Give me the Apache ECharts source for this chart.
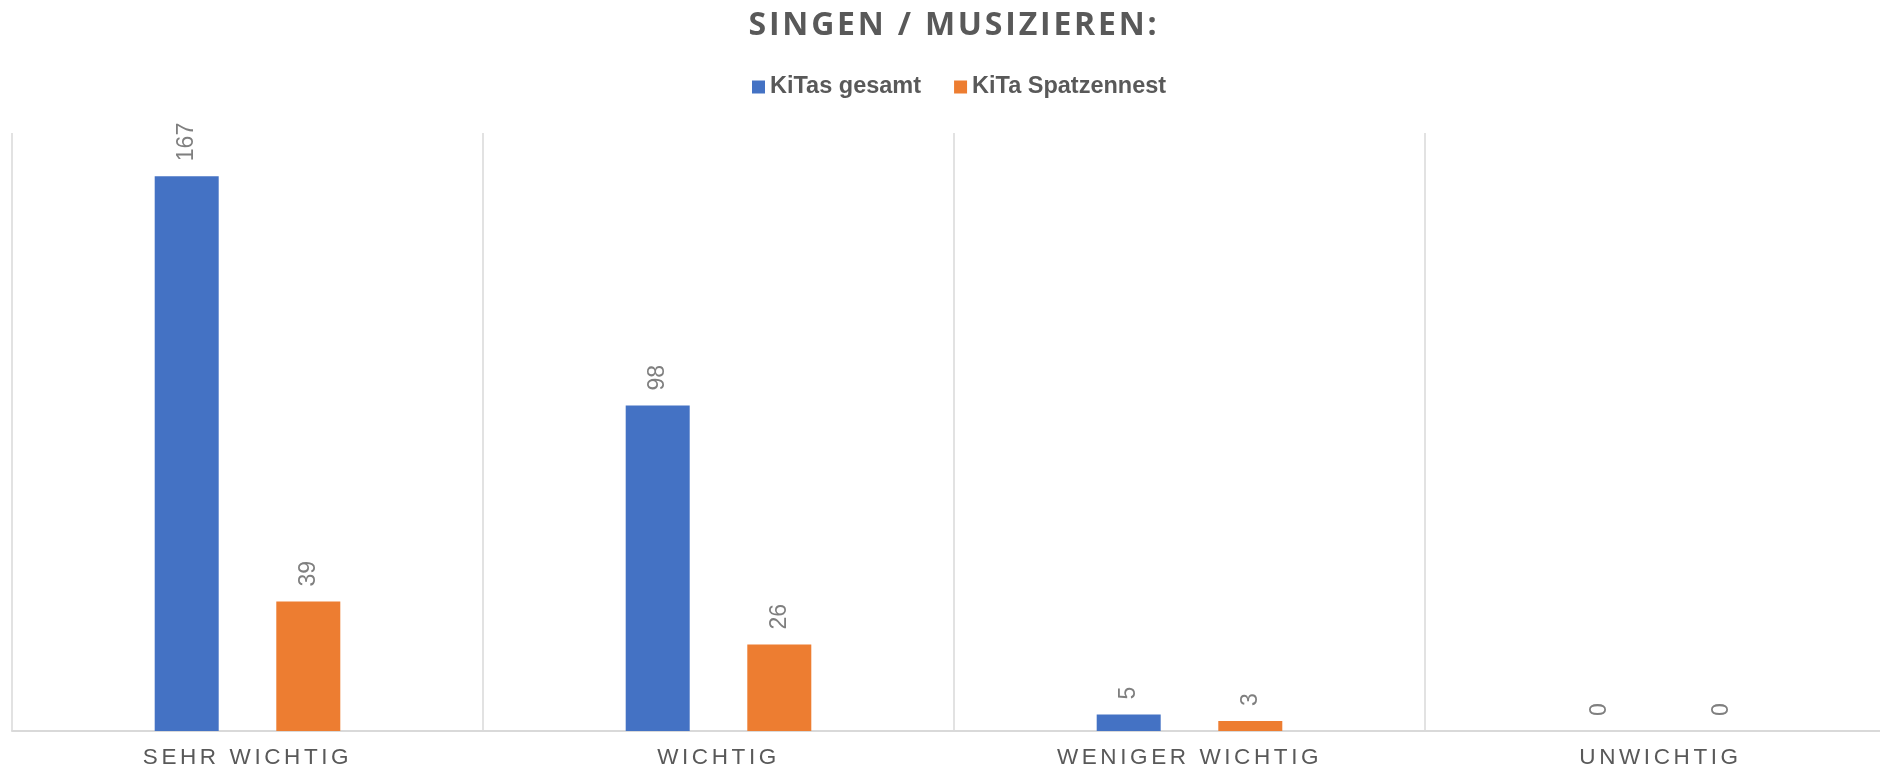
<!DOCTYPE html>
<html>
<head>
<meta charset="utf-8">
<script src="https://cdn.jsdelivr.net/npm/echarts@6/dist/echarts.min.js"></script>
<style>
html,body{margin:0;padding:0;background:#fff;}
#chart{width:1880px;height:771px;}
</style>
</head>
<body>
<div id="chart"></div>
<script>
const titleText = 'SINGEN / MUSIZIEREN:';
const categories = ['SEHR WICHTIG', 'WICHTIG', 'WENIGER WICHTIG', 'UNWICHTIG'];
const seriesNames = ['KiTas gesamt', 'KiTa Spatzennest'];
const kitasGesamt = [167, 98, 5, 0];
const kitaSpatzennest = [39, 26, 3, 0];

// letter spacing for spaced-out texts (title and category labels)
(function () {
  const proto = CanvasRenderingContext2D.prototype;
  const orig = proto.fillText;
  proto.fillText = function (t, x, y, m) {
    const f = this.font || '';
    const fs = String(this.fillStyle).toLowerCase();
    let ls = '0px';
    if (f.indexOf('32px') >= 0) ls = '2.8px';
    else if (f.indexOf('bold') < 0 && fs === '#595959') ls = '3.6px';
    if ('letterSpacing' in this) this.letterSpacing = ls;
    return m === undefined ? orig.call(this, t, x, y) : orig.call(this, t, x, y, m);
  };
})();

const chart = echarts.init(document.getElementById('chart'), null, { renderer: 'canvas' });

const labelCfg = {
  show: true,
  position: 'top',
  rotate: 90,
  align: 'left',
  verticalAlign: 'middle',
  distance: 15,
  color: '#7f7f7f',
  fontSize: 23,
  fontFamily: 'Liberation Sans, Arial, sans-serif'
};

chart.setOption({
  animation: false,
  backgroundColor: '#ffffff',
  title: {
    text: titleText,
    left: 954,
    textAlign: 'center',
    top: 10,
    padding: 0,
    textStyle: {
      fontFamily: 'Open Sans',
      fontWeight: 'bold',
      fontSize: 32,
      color: '#595959'
    }
  },
  legend: {
    data: seriesNames,
    left: 752,
    top: 75,
    padding: 0,
    icon: 'rect',
    itemWidth: 13,
    itemHeight: 13,
    itemGap: 33,
    textStyle: {
      fontFamily: 'Liberation Sans, Arial, sans-serif',
      fontWeight: 'bold',
      fontSize: 23.5,
      color: '#595959'
    }
  },
  grid: {
    left: 12,
    width: 1884,
    top: 133,
    bottom: 40,
    containLabel: false,
    outerBoundsMode: 'none'
  },
  xAxis: {
    type: 'category',
    data: categories,
    boundaryGap: true,
    axisLine: { show: true, lineStyle: { color: '#d9d9d9', width: 2 } },
    axisTick: { show: false },
    splitLine: { show: true, interval: 0, lineStyle: { color: '#d9d9d9', width: 1.5 } },
    axisLabel: {
      interval: 0,
      margin: 15,
      color: '#595959',
      fontSize: 22.5,
      fontFamily: 'Liberation Sans, Arial, sans-serif'
    }
  },
  yAxis: {
    type: 'value',
    min: 0,
    max: 180,
    show: false,
    splitLine: { show: false }
  },
  series: [
    {
      name: seriesNames[0],
      type: 'bar',
      data: kitasGesamt,
      barWidth: 64,
      barGap: '90%',
      itemStyle: { color: '#4472C4' },
      label: labelCfg
    },
    {
      name: seriesNames[1],
      type: 'bar',
      data: kitaSpatzennest,
      barWidth: 64,
      barGap: '90%',
      itemStyle: { color: '#ED7D31' },
      label: labelCfg
    }
  ]
});
</script>
</body>
</html>
